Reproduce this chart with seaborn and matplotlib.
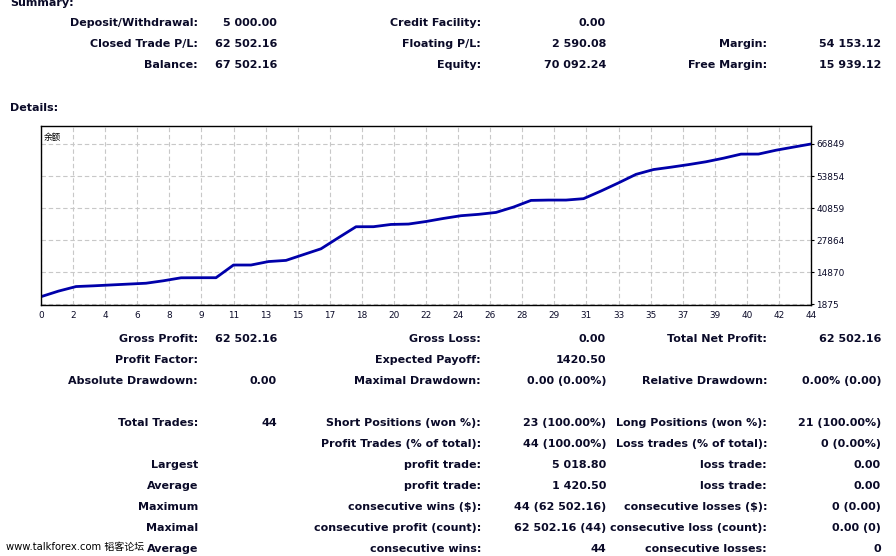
import matplotlib
matplotlib.use("Agg")
import matplotlib.pyplot as plt
import numpy as np
import seaborn as sns

W, H = 896, 556

# balance after each trade
trades = list(range(45))
balance = [5000, 7260, 9100, 9400, 9750, 10100, 10450, 11450, 12650, 12683,
           12683, 17824, 17824, 19230, 19700, 22050, 24400, 28900, 33328, 33350,
           34260, 34420, 35450, 36700, 37800, 38350, 39130, 41300, 44000, 44136,
           44136, 44700, 47800, 51100, 54550, 56500, 57460, 58500, 59650, 61100,
           62750, 62770, 64330, 65600, 66850]

x_labels = ['0', '2', '4', '6', '8', '9', '11', '13', '15', '17', '18', '20', '22',
            '24', '26', '28', '29', '31', '33', '35', '37', '39', '40', '42', '44']
y_ticks = [1875, 14870, 27864, 40859, 53854, 66849]

# summary block: (label, value) per column
summary_col1 = [('Deposit/Withdrawal:', '5 000.00'), ('Closed Trade P/L:', '62 502.16'),
                ('Balance:', '67 502.16')]
summary_col2 = [('Credit Facility:', '0.00'), ('Floating P/L:', '2 590.08'),
                ('Equity:', '70 092.24')]
summary_col3 = [('', ''), ('Margin:', '54 153.12'), ('Free Margin:', '15 939.12')]

# details block
details_col1 = [('Gross Profit:', '62 502.16'), ('Profit Factor:', ''),
                ('Absolute Drawdown:', '0.00'), ('', ''), ('Total Trades:', '44'),
                ('', ''), ('Largest', ''), ('Average', ''), ('Maximum', ''),
                ('Maximal', ''), ('Average', '')]
details_col2 = [('Gross Loss:', '0.00'), ('Expected Payoff:', '1420.50'),
                ('Maximal Drawdown:', '0.00 (0.00%)'), ('', ''),
                ('Short Positions (won %):', '23 (100.00%)'),
                ('Profit Trades (% of total):', '44 (100.00%)'),
                ('profit trade:', '5 018.80'), ('profit trade:', '1 420.50'),
                ('consecutive wins ($):', '44 (62 502.16)'),
                ('consecutive profit (count):', '62 502.16 (44)'),
                ('consecutive wins:', '44')]
details_col3 = [('Total Net Profit:', '62 502.16'), ('', ''),
                ('Relative Drawdown:', '0.00% (0.00)'), ('', ''),
                ('Long Positions (won %):', '21 (100.00%)'),
                ('Loss trades (% of total):', '0 (0.00%)'),
                ('loss trade:', '0.00'), ('loss trade:', '0.00'),
                ('consecutive losses ($):', '0 (0.00)'),
                ('consecutive loss (count):', '0.00 (0)'),
                ('consecutive losses:', '0')]

sns.set_style("white")
plt.rcParams['font.family'] = ['DejaVu Sans', 'Noto Sans CJK SC']

TXT = '#0a0a28'
fig = plt.figure(figsize=(W / 100, H / 100), dpi=100)
fig.patch.set_facecolor('white')


def put(x, y, s, ha='right', weight='bold', size=8.0, color=TXT):
    fig.text(x / W, 1 - y / H, s, ha=ha, va='center', fontsize=size,
             fontweight=weight, color=color)


def block(cols, y0, dy):
    # label right edge, value right edge
    edges = [(198, 277), (481, 606), (767, 881)]
    for col, (lx, vx) in zip(cols, edges):
        for i, (lab, val) in enumerate(col):
            y = y0 + i * dy
            if lab:
                put(lx, y, lab)
            if val:
                put(vx, y, val)


put(10, 3, 'Summary:', ha='left')
block([summary_col1, summary_col2, summary_col3], 23, 21)
put(10, 108, 'Details:', ha='left')
block([details_col1, details_col2, details_col3], 338.5, 21.1)
put(6, 546.5, 'www.talkforex.com 韬客论坛', ha='left', weight='normal', size=7.2,
    color='black')

# balance chart
ax = fig.add_axes([41 / W, (H - 305) / H, 770 / W, 179 / H])
sns.lineplot(x=trades, y=balance, ax=ax, color='#0000aa', linewidth=2.0)
ax.set_xlim(0, 44)
ax.set_ylim(1630, 74140)
ax.set_xticks(np.linspace(0, 44, len(x_labels)))
ax.set_xticklabels(x_labels)
ax.set_yticks(y_ticks)
ax.set_yticklabels([str(v) for v in y_ticks])
ax.yaxis.tick_right()
ax.tick_params(axis='both', labelsize=6.4, colors='black', length=2.5, width=0.8,
               pad=1.5, direction='out')
for lab in ax.get_xticklabels() + ax.get_yticklabels():
    lab.set_color(TXT)
ax.grid(True, color='#c8c8c8', linestyle=(0, (4, 2.5)), linewidth=0.8)
for sp in ax.spines.values():
    sp.set_color('black')
    sp.set_linewidth(1.0)
ax.set_xlabel('')
ax.set_ylabel('')
ax.text(0.003, 0.96, '余额', transform=ax.transAxes, ha='left', va='top',
        fontsize=6.2, family=['Noto Sans CJK SC', 'DejaVu Sans'], color='black')

fig.savefig('out.png', dpi=100)
